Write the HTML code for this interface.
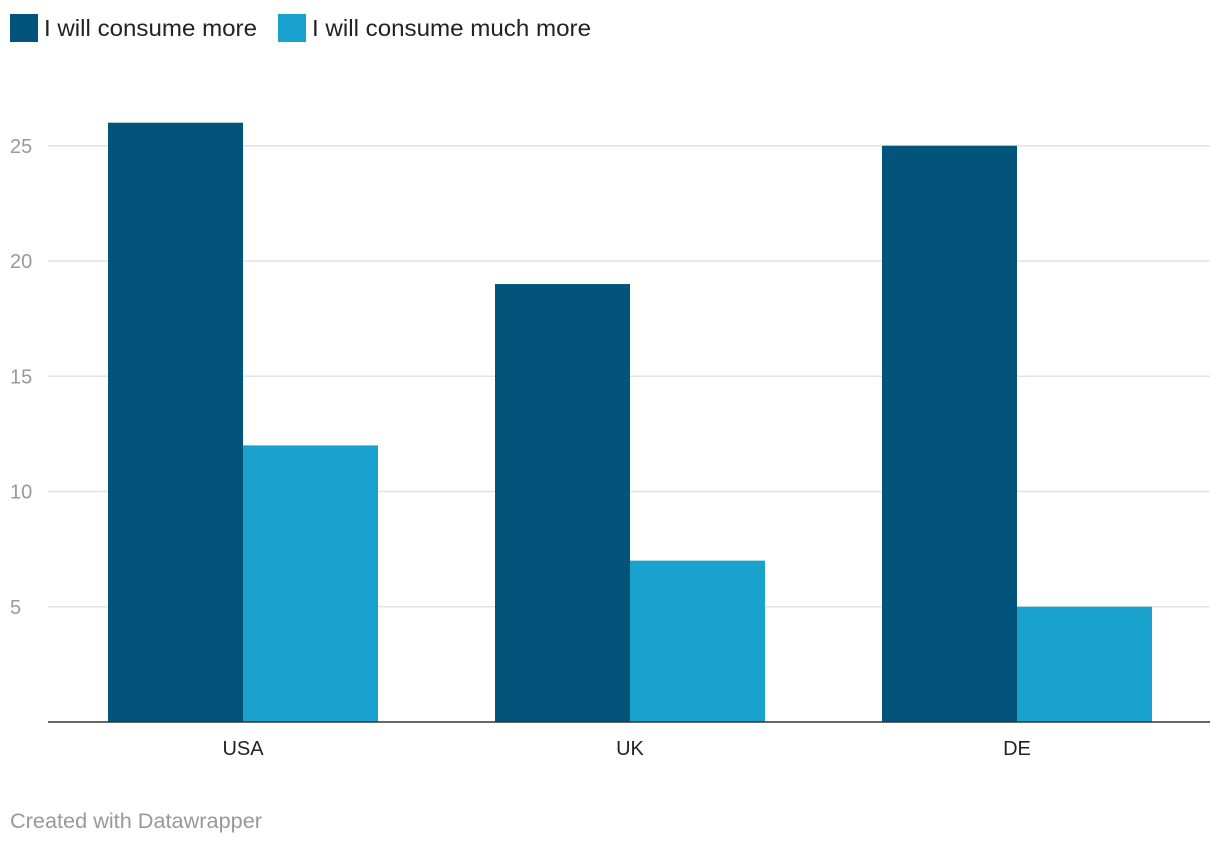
<!DOCTYPE html>
<html><head><meta charset="utf-8"><style>
body{margin:0;background:#fff;width:1220px;height:844px;overflow:hidden;font-family:"Liberation Sans",sans-serif;}
</style></head><body>
<svg id="chart" width="1220" height="844" xmlns="http://www.w3.org/2000/svg" font-family="Liberation Sans, sans-serif">
  <g>
    <rect x="10" y="14" width="28" height="28" fill="#03547b"/>
    <text x="44" y="36" font-size="23" fill="#222" textLength="213" lengthAdjust="spacingAndGlyphs">I will consume more</text>
    <rect x="278" y="14" width="28" height="28" fill="#1aa2cf"/>
    <text x="312" y="36" font-size="23" fill="#222" textLength="279" lengthAdjust="spacingAndGlyphs">I will consume much more</text>
  </g>
  <g id="grid"></g>
  <g id="bars"></g>
  <g id="xlabels"></g>
  <line x1="48" x2="1210" y1="722" y2="722" stroke="#333" stroke-width="1.5"/>
  <text x="10" y="828" font-size="21" fill="#999" textLength="252" lengthAdjust="spacingAndGlyphs">Created with Datawrapper</text>
</svg>
<script>
const categories = ["USA", "UK", "DE"];
const seriesMore = [26, 19, 25];
const seriesMuchMore = [12, 7, 5];
const yTicks = [5, 10, 15, 20, 25];

const NS = "http://www.w3.org/2000/svg";
const y0 = 722, pxPerUnit = 23.05;
function y(v){ return y0 - v * pxPerUnit; }
function xCenter(i){ return 243 + i * 387; }
const barW = 135;

const grid = document.getElementById("grid");
yTicks.forEach(t => {
  const l = document.createElementNS(NS, "line");
  
  
  l.setAttribute("x1", 48); l.setAttribute("x2", 1210);
  l.setAttribute("y1", y(t)); l.setAttribute("y2", y(t));
  l.setAttribute("stroke", "#e3e3e3"); l.setAttribute("stroke-width", "1.5");
  grid.appendChild(l);
  const tx = document.createElementNS(NS, "text");
  
  
  tx.setAttribute("x", 10); tx.setAttribute("y", y(t) + 7);
  tx.setAttribute("font-size", "20"); tx.setAttribute("fill", "#999");
  tx.textContent = t;
  grid.appendChild(tx);
});

const bars = document.getElementById("bars");
const xl = document.getElementById("xlabels");
categories.forEach((c, i) => {
  const cx = xCenter(i);
  const r1 = document.createElementNS(NS, "rect");
  
  
  r1.setAttribute("x", cx - barW); r1.setAttribute("width", barW);
  r1.setAttribute("y", y(seriesMore[i])); r1.setAttribute("height", y0 - y(seriesMore[i]));
  r1.setAttribute("fill", "#03547b");
  bars.appendChild(r1);
  const r2 = document.createElementNS(NS, "rect");
  
  
  r2.setAttribute("x", cx); r2.setAttribute("width", barW);
  r2.setAttribute("y", y(seriesMuchMore[i])); r2.setAttribute("height", y0 - y(seriesMuchMore[i]));
  r2.setAttribute("fill", "#1aa2cf");
  bars.appendChild(r2);
  const t = document.createElementNS(NS, "text");
  
  
  t.setAttribute("x", cx); t.setAttribute("y", 755);
  t.setAttribute("text-anchor", "middle");
  t.setAttribute("font-size", "20"); t.setAttribute("fill", "#222");
  t.textContent = c;
  xl.appendChild(t);
});
</script>
</body></html>
